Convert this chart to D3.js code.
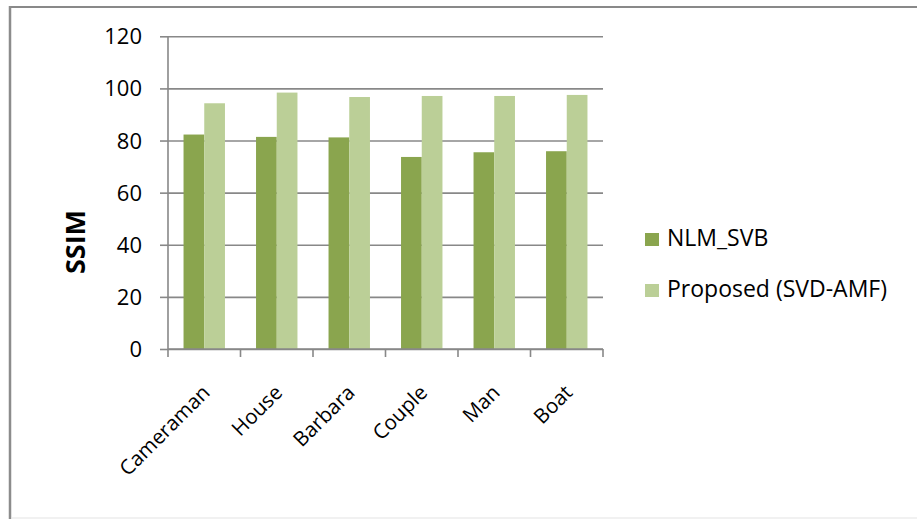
<!DOCTYPE html>
<html>
<head>
<meta charset="utf-8">
<script src="https://cdn.jsdelivr.net/npm/d3@7"></script>
<style>
  html, body { margin: 0; padding: 0; background: #fff; }
  svg { display: block; }
  text { font-family: "Open Sans", "DejaVu Sans", sans-serif; fill: #000; }
</style>
</head>
<body>
<svg id="chart" width="917" height="519"></svg>
<script>
// SSIM scores per test image
const categories = ["Cameraman", "House", "Barbara", "Couple", "Man", "Boat"];
const seriesNames = ["NLM_SVB", "Proposed (SVD-AMF)"];
const nlmSvb = [82.3, 81.4, 81.2, 73.7, 75.5, 75.9];
const proposed = [94.3, 98.4, 96.7, 97.1, 97.1, 97.5];
const yTicks = [0, 20, 40, 60, 80, 100, 120];
const colors = ["#8aa54e", "#bbcf97"];
const yTitle = "SSIM";

const seriesValues = [nlmSvb, proposed];
const rows = categories.map((c, i) => ({
  category: c,
  values: seriesNames.map((s, j) => ({ series: s, value: seriesValues[j][i], color: colors[j] }))
}));

const svg = d3.select("#chart");
const plot = { left: 168, right: 603, top: 36.3, bottom: 349 };

// chart frame
svg.append("line").attr("x1", 10).attr("x2", 917).attr("y1", 7).attr("y2", 7)
  .attr("stroke", "#898989").attr("stroke-width", 2);
svg.append("line").attr("x1", 10).attr("x2", 10).attr("y1", 6).attr("y2", 519)
  .attr("stroke", "#8c8c8c").attr("stroke-width", 2.5);
svg.append("line").attr("x1", 11).attr("x2", 917).attr("y1", 518).attr("y2", 518)
  .attr("stroke", "#e3e3e3").attr("stroke-width", 1);

const y = d3.scaleLinear().domain([0, 120]).range([plot.bottom, plot.top]);
const x0 = d3.scaleBand().domain(categories).range([plot.left, plot.right]).padding(0);
const x1 = d3.scaleBand().domain(seriesNames).range([0, x0.bandwidth()])
  .paddingInner(0).paddingOuter(0.75);

// horizontal gridlines
const grid = svg.append("g").attr("transform", `translate(${plot.left},0)`)
  .call(d3.axisLeft(y).tickValues(yTicks).tickSize(-(plot.right - plot.left)).tickFormat(""));
grid.select(".domain").remove();
grid.selectAll("line").attr("stroke", "#888").attr("stroke-width", 1.6);

// bars
const groups = svg.append("g").selectAll("g").data(rows).join("g")
  .attr("transform", d => `translate(${x0(d.category)},0)`);
groups.selectAll("rect").data(d => d.values).join("rect")
  .attr("x", d => x1(d.series))
  .attr("width", x1.bandwidth())
  .attr("y", d => y(d.value))
  .attr("height", d => y(0) - y(d.value))
  .attr("fill", d => d.color);

// y axis
const yAxis = svg.append("g").attr("transform", `translate(${plot.left},0)`)
  .call(d3.axisLeft(y).tickValues(yTicks).tickSize(8).tickPadding(18));
yAxis.select(".domain").attr("stroke", "#888").attr("stroke-width", 1.6)
  .attr("d", `M0,${plot.top}V${plot.bottom}`);
yAxis.selectAll(".tick line").attr("stroke", "#888").attr("stroke-width", 1.6);
yAxis.selectAll(".tick text").attr("font-size", 22).attr("font-family", "Open Sans")
  .attr("dy", "0.34em").attr("fill", "#000");

// x axis: baseline, boundary ticks and rotated labels
const xAxis = svg.append("g").attr("transform", `translate(0,${plot.bottom})`)
  .call(d3.axisBottom(x0).tickSize(0).tickFormat(""));
xAxis.select(".domain").attr("stroke", "#888").attr("stroke-width", 1.6)
  .attr("d", `M${plot.left},0H${plot.right}`);
const bounds = categories.map(c => x0(c)).concat([plot.right]);
xAxis.selectAll(".bound").data(bounds).join("line").attr("class", "bound")
  .attr("x1", d => d).attr("x2", d => d).attr("y1", 0).attr("y2", 8)
  .attr("stroke", "#888").attr("stroke-width", 1.6);

svg.append("g").selectAll("text").data(categories).join("text")
  .attr("transform", d => `translate(${x0(d) + x0.bandwidth() / 2 - 4},${plot.bottom + 34}) rotate(-45)`)
  .attr("text-anchor", "end")
  .attr("dy", "0.75em")
  .attr("font-size", 20.5)
  .text(d => d);

// y axis title
svg.append("text")
  .attr("transform", "translate(76,242) rotate(-90)")
  .attr("text-anchor", "middle")
  .attr("dy", "0.35em")
  .attr("font-size", 27)
  .attr("font-weight", "bold")
  .text(yTitle);

// legend
const legend = svg.append("g").attr("transform", "translate(645,233)")
  .selectAll("g").data(seriesNames).join("g")
  .attr("transform", (d, i) => `translate(0,${i * 51})`);
legend.append("rect").attr("width", 14).attr("height", 13)
  .attr("fill", (d, i) => colors[i]);
legend.append("text").attr("x", 22).attr("y", 13).attr("font-size", 23).text(d => d);
</script>
</body>
</html>
